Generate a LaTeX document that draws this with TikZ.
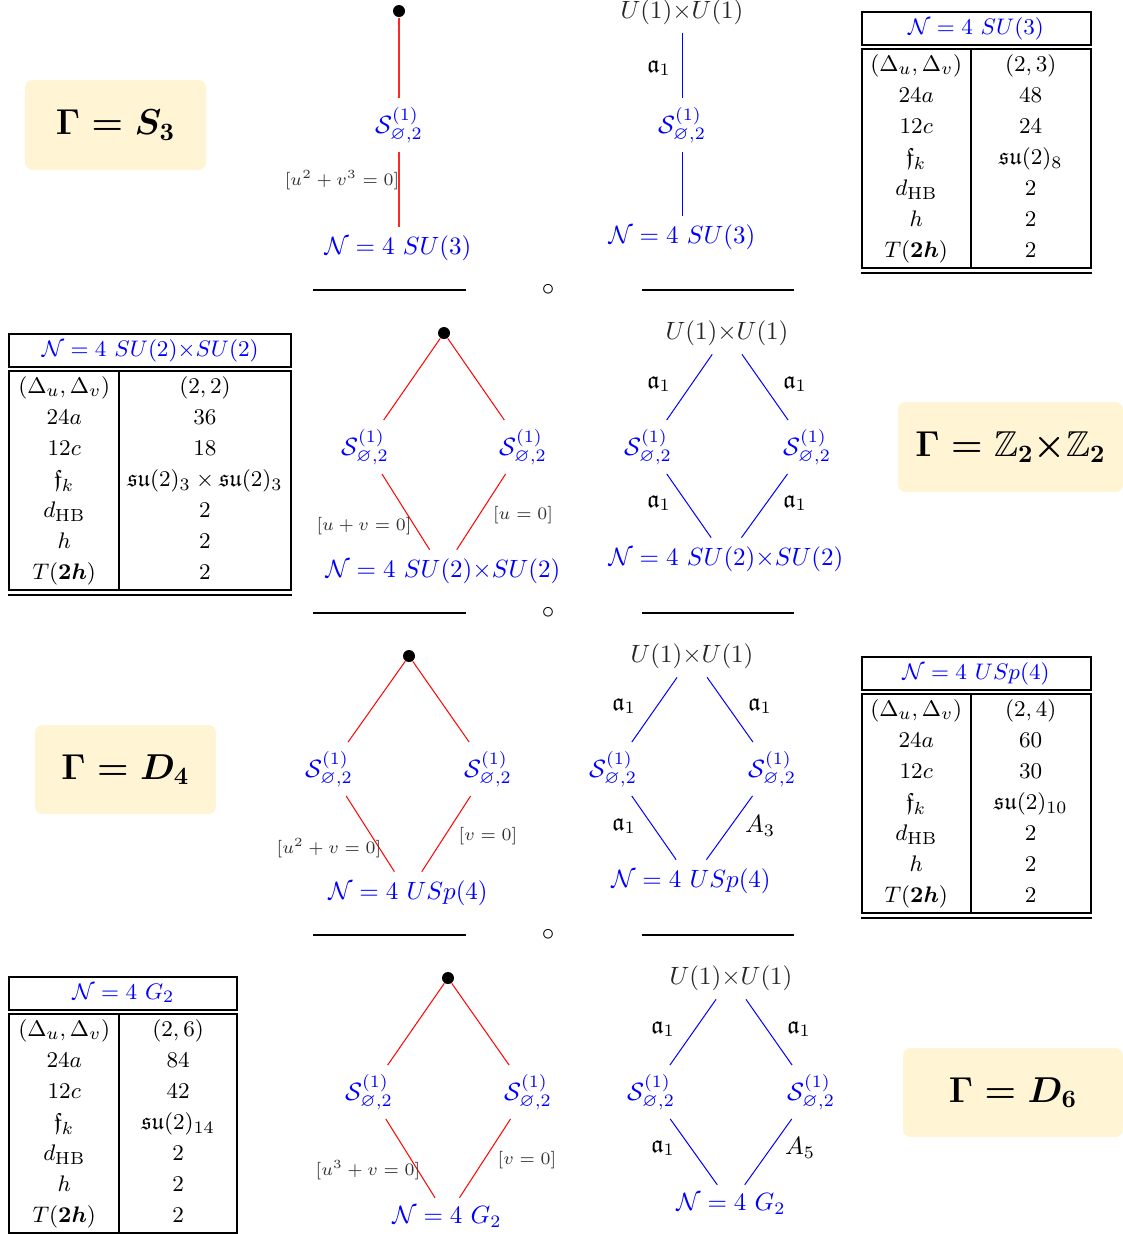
\documentclass[tikz,border=0pt]{standalone}
\usepackage{amsmath,amssymb,amsfonts}
\usepackage{array}
\usepackage{xcolor}
\usepackage{tikz}
\usetikzlibrary{positioning}

\definecolor{gammabg}{RGB}{255,245,212}
\setlength{\arrayrulewidth}{0.8pt}
\setlength{\doublerulesep}{1pt}
\setlength{\tabcolsep}{5pt}
\newcommand{\Sgen}{\mathcal{S}^{(1)}_{\varnothing,2}}
\newcommand{\Nfour}[1]{\mathcal{N}=4\ #1}
\newcommand{\uu}{U(1){\times}U(1)}
% table of invariants
\newcommand{\invtable}[6]{%
\fontsize{9.5}{12.4}\selectfont
\begin{tabular}{|w{c}{33pt}|w{c}{#2}|}
\hline
\multicolumn{2}{|c|}{\color{blue}$\mathcal{N}=4\ #1$}\\
\hline\hline
$(\Delta_u,\Delta_v)$ & $#3$\\
$24a$ & $#4$\\
$12c$ & $#5$\\
$\mathfrak{f}_k$ & $#6$\\
$d_{\mathrm{HB}}$ & $2$\\
$h$ & $2$\\
$T(\boldsymbol{2h})$ & $2$\\
\hline\hline
\end{tabular}}

\begin{document}
\begin{tikzpicture}[x=0.4pt, y=-0.4pt,
  vac/.style={circle, fill=black, inner sep=0pt, minimum size=4.8pt},
  theory/.style={text=blue},
  lab/.style={font=\scriptsize, text=black!80},
  cb/.style={text=black!85},
  gammabox/.style={fill=gammabg, rounded corners=3pt, font=\Large\boldmath},
  rowrule/.style={line width=0.8pt}]
\useasboundingbox (0,0) rectangle (1123,1234);

% ---- Gamma = S_3
\node[gammabox, minimum width=72.4pt, minimum height=36pt] (g1) at (115.5,125) {$\Gamma=S_3$};
\node[vac] (v1) at (399,11) {};
\node[theory] (s1) at (399,125) {$\Sgen$};
\node[theory] (n1) at (398,248) {$\Nfour{SU(3)}$};
\draw[red!85, line width=0.6pt] (v1) -- (s1);
\draw[red!85, line width=0.6pt] (s1) -- (s1 |- n1.north);
\node[lab] (l1) at (342,180) {$[u^2+v^3=0]$};
\node[cb] (u1) at (682,12) {$\uu$};
\node[theory] (t1) at (682,125) {$\Sgen$};
\node[theory] (m1) at (682,237) {$\Nfour{SU(3)}$};
\draw[blue] (u1) -- (t1);
\draw[blue] (t1) -- (m1);
\node (a1) at (659,68) {$\mathfrak{a}_1$};
\node[anchor=north west, inner sep=0pt] (tab1) at (860,10) {\invtable{SU(3)}{37pt}{(2,3)}{48}{24}{\mathfrak{su}(2)_8}};
\draw[rowrule] (313,290) -- (466,290);
\draw[rowrule] (642,290) -- (794,290);
\node (c1) at (548,290) {$\circ$};

% ---- Gamma = Z_2 x Z_2
\node[anchor=north west, inner sep=0pt] (tab2) at (8,332) {\invtable{SU(2){\times}SU(2)}{58pt}{(2,2)}{36}{18}{\mathfrak{su}(2)_3\times\mathfrak{su}(2)_3}};
\node[vac] (v2) at (444,333) {};
\node[theory] (s2l) at (365,447) {$\Sgen$};
\node[theory] (s2r) at (523,447) {$\Sgen$};
\node[theory] (n2) at (443,571) {$\Nfour{SU(2){\times}SU(2)}$};
\draw[red] (v2) -- (s2l);
\draw[red] (v2) -- (s2r);
\draw[red] (s2l) -- (n2);
\draw[red] (s2r) -- (n2);
\node[lab] (l2l) at (364,526) {$[u+v=0]$};
\node[lab] (l2r) at (523,515) {$[u=0]$};
\node[cb] (u2) at (727,333) {$\uu$};
\node[theory] (t2l) at (648,447) {$\Sgen$};
\node[theory] (t2r) at (807,447) {$\Sgen$};
\node[theory] (m2) at (726,559) {$\Nfour{SU(2){\times}SU(2)}$};
\draw[blue] (u2) -- (t2l);
\draw[blue] (u2) -- (t2r);
\draw[blue] (t2l) -- (m2);
\draw[blue] (t2r) -- (m2);
\node (a2a) at (659,384) {$\mathfrak{a}_1$};
\node (a2b) at (795,384) {$\mathfrak{a}_1$};
\node (a2c) at (659,503) {$\mathfrak{a}_1$};
\node (a2d) at (795,503) {$\mathfrak{a}_1$};
\node[gammabox, minimum width=90pt, minimum height=36pt] (g2) at (1010.5,447) {$\Gamma=\mathbb{Z}_2{\times}\mathbb{Z}_2$};
\draw[rowrule] (313,613) -- (466,613);
\draw[rowrule] (642,613) -- (794,613);
\node (c2) at (548,613) {$\circ$};

% ---- Gamma = D_4
\node[gammabox, minimum width=72.4pt, minimum height=35.6pt] (g3) at (125.5,769.5) {$\Gamma=D_4$};
\node[vac] (v3) at (409,656) {};
\node[theory] (s3l) at (329,769) {$\Sgen$};
\node[theory] (s3r) at (488,769) {$\Sgen$};
\node[theory] (n3) at (408,893) {$\Nfour{USp(4)}$};
\draw[red] (v3) -- (s3l);
\draw[red] (v3) -- (s3r);
\draw[red] (s3l) -- (n3);
\draw[red] (s3r) -- (n3);
\node[lab] (l3l) at (329,848) {$[u^2+v=0]$};
\node[lab] (l3r) at (488,836) {$[v=0]$};
\node[cb] (u3) at (692,656) {$\uu$};
\node[theory] (t3l) at (613,769) {$\Sgen$};
\node[theory] (t3r) at (772,769) {$\Sgen$};
\node[theory] (m3) at (691,881) {$\Nfour{USp(4)}$};
\draw[blue] (u3) -- (t3l);
\draw[blue] (u3) -- (t3r);
\draw[blue] (t3l) -- (m3);
\draw[blue] (t3r) -- (m3);
\node (a3a) at (624,706) {$\mathfrak{a}_1$};
\node (a3b) at (760,706) {$\mathfrak{a}_1$};
\node (a3c) at (624,826) {$\mathfrak{a}_1$};
\node (a3d) at (760,826) {$A_3$};
\node[anchor=north west, inner sep=0pt] (tab3) at (860,655) {\invtable{USp(4)}{37pt}{(2,4)}{60}{30}{\mathfrak{su}(2)_{10}}};
\draw[rowrule] (313,935) -- (466,935);
\draw[rowrule] (642,935) -- (794,935);
\node (c3) at (548,935) {$\circ$};

% ---- Gamma = D_6
\node[anchor=north west, inner sep=0pt] (tab4) at (8,975) {\invtable{G_2}{36.5pt}{(2,6)}{84}{42}{\mathfrak{su}(2)_{14}}};
\node[vac] (v4) at (448,978) {};
\node[theory] (s4l) at (369,1092) {$\Sgen$};
\node[theory] (s4r) at (528,1092) {$\Sgen$};
\node[theory] (n4) at (447,1217) {$\Nfour{G_2}$};
\draw[red] (v4) -- (s4l);
\draw[red] (v4) -- (s4r);
\draw[red] (s4l) -- (n4);
\draw[red] (s4r) -- (n4);
\node[lab] (l4l) at (368,1170) {$[u^3+v=0]$};
\node[lab] (l4r) at (527,1160) {$[v=0]$};
\node[cb] (u4) at (731,978) {$\uu$};
\node[theory] (t4l) at (651,1092) {$\Sgen$};
\node[theory] (t4r) at (811,1092) {$\Sgen$};
\node[theory] (m4) at (731,1204) {$\Nfour{G_2}$};
\draw[blue] (u4) -- (t4l);
\draw[blue] (u4) -- (t4r);
\draw[blue] (t4l) -- (m4);
\draw[blue] (t4r) -- (m4);
\node (a4a) at (663,1029) {$\mathfrak{a}_1$};
\node (a4b) at (799,1029) {$\mathfrak{a}_1$};
\node (a4c) at (663,1148) {$\mathfrak{a}_1$};
\node (a4d) at (800,1148) {$A_5$};
\node[gammabox, minimum width=88pt, minimum height=35.6pt] (g4) at (1013,1092.5) {$\Gamma=D_6$};
\end{tikzpicture}
\end{document}
